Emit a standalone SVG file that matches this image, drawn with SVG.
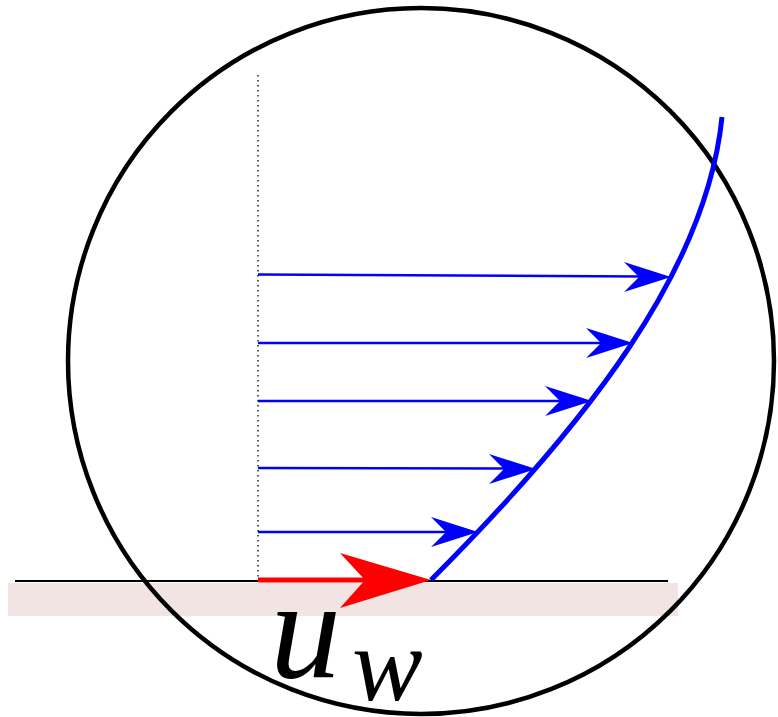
<svg xmlns="http://www.w3.org/2000/svg" width="778" height="717" viewBox="0 0 778 717">
<style>
.vel{stroke:#0000ff;stroke-width:2.6;fill:none}
.head{fill:#0000ff}
.lbl{font-family:"Liberation Serif",serif;font-style:italic;fill:#000}
</style>
<defs>
<path id="bh" d="M0,0 L-47,-15 L-32,0 L-47,15 Z"/>
</defs>
<rect id="wall" x="8" y="583" width="670" height="33" fill="#f3e4e4"/>
<line x1="15" y1="581" x2="668" y2="581" stroke="#000" stroke-width="2"/>
<circle id="circle" cx="421" cy="361" r="353" fill="none" stroke="#000" stroke-width="4.5"/>
<line x1="258" y1="75" x2="258" y2="580" stroke="#000" stroke-width="1.3" stroke-dasharray="1.5,3.5"/>
<g id="profile">
<path d="M431,580 C585,425.7 706.6,271.3 722,117" fill="none" stroke="#0000ff" stroke-width="5"/>
</g>
<g id="connectors">
<g id="v1"><line class="vel" x1="258" y1="532" x2="450" y2="532"/><use href="#bh" class="head" transform="translate(478,532)"/></g>
<g id="v2"><line class="vel" x1="258" y1="468" x2="508" y2="468.5"/><use href="#bh" class="head" transform="translate(536,469)"/></g>
<g id="v3"><line class="vel" x1="258" y1="401" x2="564" y2="401"/><use href="#bh" class="head" transform="translate(592,401)"/></g>
<g id="v4"><line class="vel" x1="258" y1="343" x2="605" y2="343"/><use href="#bh" class="head" transform="translate(633,343)"/></g>
<g id="v5"><line class="vel" x1="258" y1="274.5" x2="642" y2="276.5"/><use href="#bh" class="head" transform="translate(671,277)"/></g>
<g id="uw-arrow">
<line x1="258" y1="580" x2="370" y2="580" stroke="#ff0000" stroke-width="5"/>
<path d="M431,580 L340,553 L365,580 L340,608 Z" fill="#ff0000"/>
</g>
</g>
<g id="label">
<text class="lbl" x="270" y="677" font-size="142">u</text>
<text class="lbl" x="352" y="700" font-size="106">w</text>
</g>
</svg>
